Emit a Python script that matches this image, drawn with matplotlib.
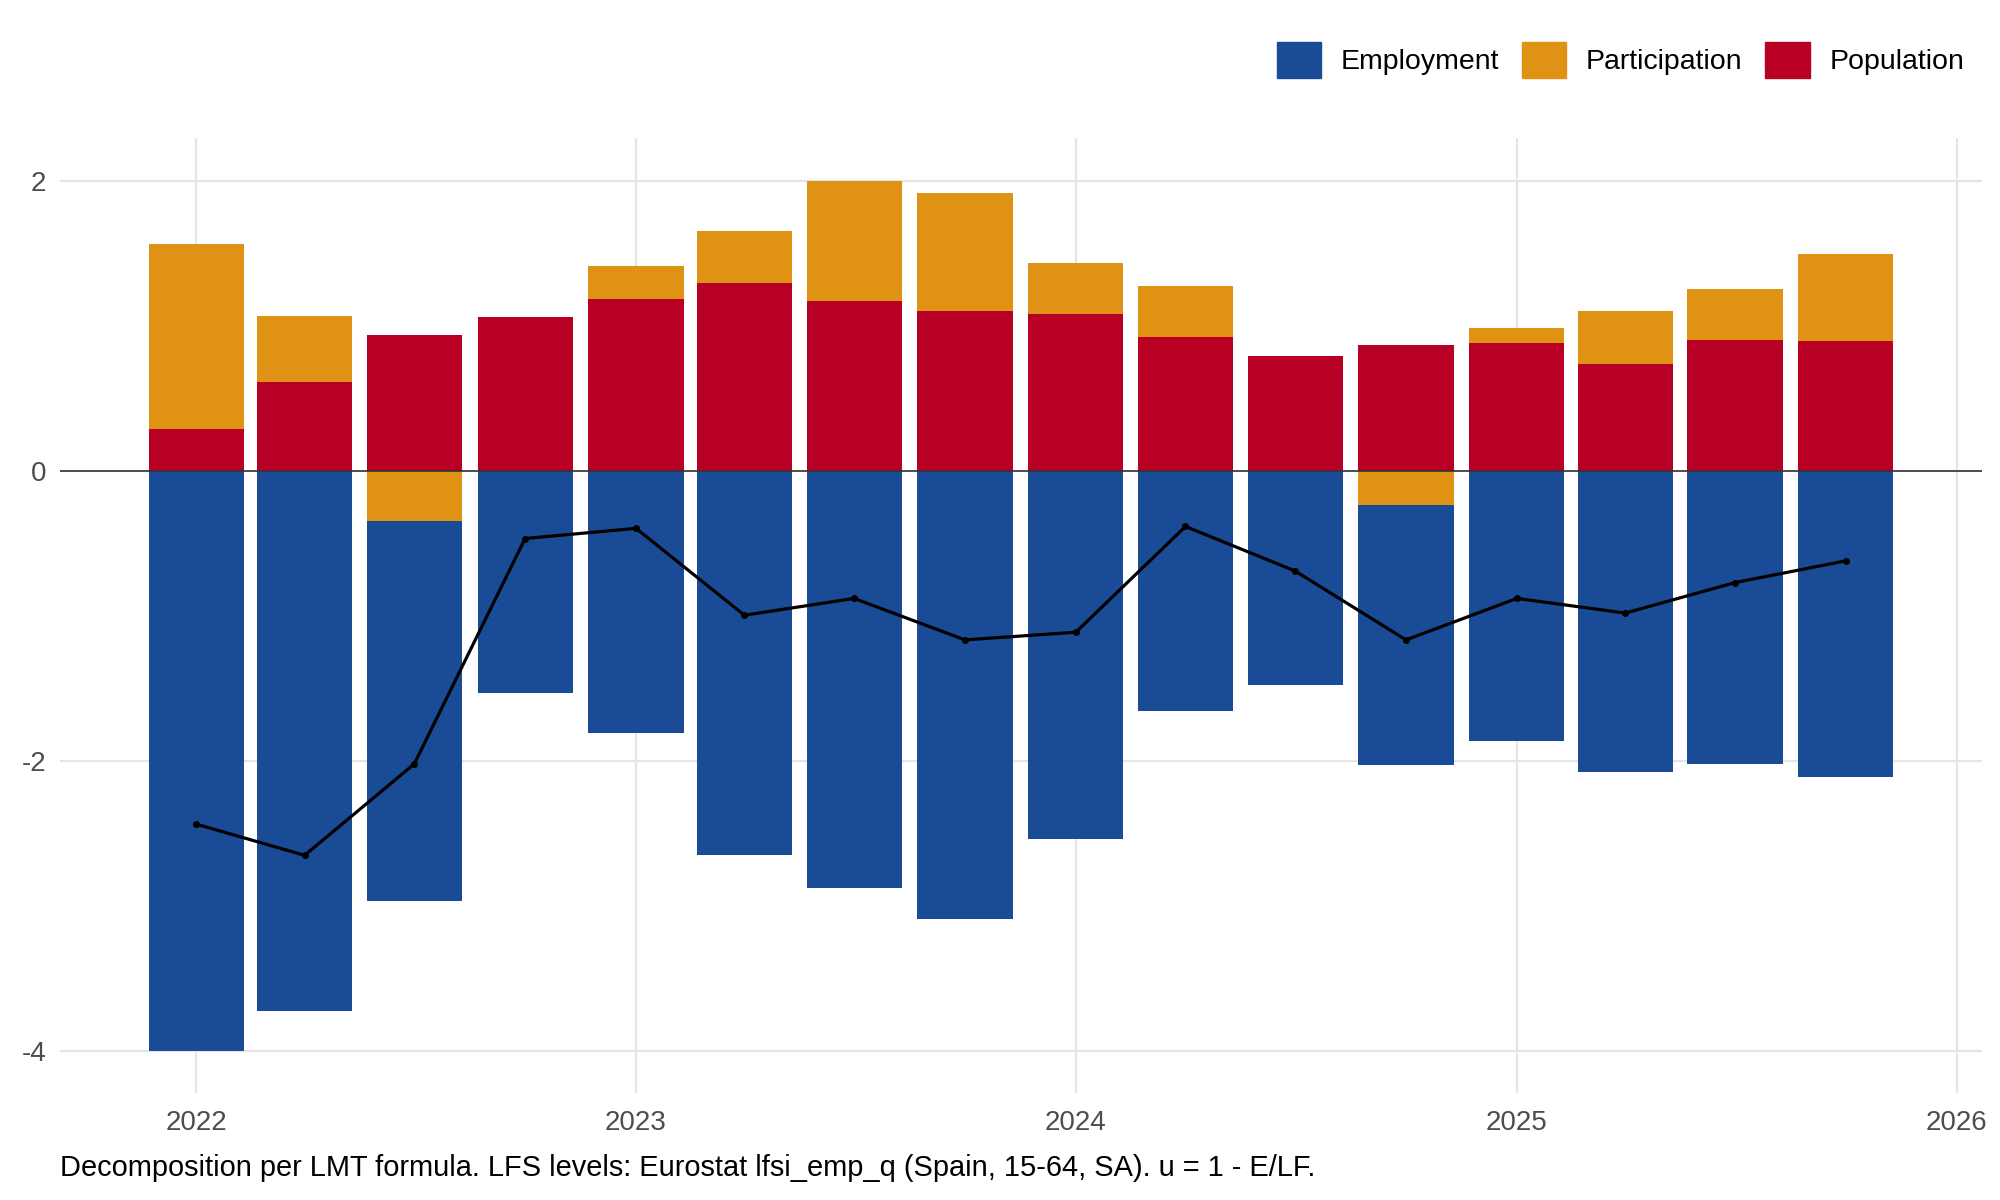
import numpy as np
import pandas as pd
import matplotlib
matplotlib.use("Agg")
import matplotlib.pyplot as plt
import matplotlib.dates as mdates
from matplotlib.patches import Patch

plt.rcParams['font.family'] = ['Liberation Sans', 'DejaVu Sans']

# quarterly contributions (pp), Spain 2022Q1-2025Q4
quarters = pd.date_range("2022-01-01", periods=16, freq="QS")
population = [0.29, 0.615, 0.94, 1.064, 1.187, 1.292, 1.169, 1.099,
              1.081, 0.923, 0.791, 0.87, 0.879, 0.738, 0.905, 0.897]
participation = [1.275, 0.455, -0.343, 0.0, 0.228, 0.36, 0.827, 0.817,
                 0.352, 0.352, 0.0, -0.237, 0.106, 0.361, 0.352, 0.597]
employment = [-4.0, -3.72, -2.62, -1.53, -1.81, -2.646, -2.875, -3.086,
              -2.54, -1.653, -1.477, -1.793, -1.864, -2.075, -2.022, -2.11]
total = [-2.435, -2.65, -2.02, -0.466, -0.396, -0.995, -0.879, -1.165,
         -1.112, -0.383, -0.69, -1.165, -0.879, -0.98, -0.77, -0.62]

col_emp = "#1A4B96"
col_part = "#E09215"
col_pop = "#B80024"

fig = plt.figure(figsize=(20, 12), dpi=100)
ax = fig.add_axes([0.03, 0.089, 0.961, 0.796])

width = 79  # days
pop = np.array(population)
part = np.array(participation)
emp = np.array(employment)

# positive stack: population at bottom, participation on top
ax.bar(quarters, pop, width=width, color=col_pop, zorder=2)
part_pos = np.where(part > 0, part, 0)
part_neg = np.where(part < 0, part, 0)
ax.bar(quarters, part_pos, bottom=pop, width=width, color=col_part, zorder=2)
# negative stack: participation next to zero, then employment
ax.bar(quarters, part_neg, width=width, color=col_part, zorder=2)
ax.bar(quarters, emp, bottom=part_neg, width=width, color=col_emp, zorder=2)

ax.axhline(0, color="#333333", linewidth=1.2, zorder=3)
ax.plot(quarters, total, color="black", linewidth=2.3, marker="o",
        markersize=4, zorder=4)

ax.set_ylim(-4.29, 2.295)
ax.set_xlim(pd.Timestamp("2021-09-10"), pd.Timestamp("2026-01-22"))
ax.set_yticks([-4, -2, 0, 2])
ax.set_yticklabels(["-4", "-2", "0", "2"])
ax.xaxis.set_major_locator(mdates.YearLocator())
ax.xaxis.set_major_formatter(mdates.DateFormatter("%Y"))

ax.grid(True, color="#E5E5E5", linewidth=1.6, zorder=0)
ax.set_axisbelow(True)
for s in ax.spines.values():
    s.set_visible(False)
ax.tick_params(length=0, labelsize=20, colors="#4D4D4D")
ax.tick_params(axis="x", pad=12)
ax.tick_params(axis="y", pad=10)

handles = [Patch(color=col_emp, label="Employment"),
           Patch(color=col_part, label="Participation"),
           Patch(color=col_pop, label="Population")]
fig.legend(handles=handles, loc="center right", bbox_to_anchor=(0.995, 0.95),
           ncol=3, frameon=False, fontsize=20.5, handlelength=1.55,
           handleheight=1.55, handletextpad=0.7, columnspacing=0.8)

fig.text(0.03, 0.027, "Decomposition per LMT formula. LFS levels: Eurostat lfsi_emp_q "
         "(Spain, 15-64, SA). u = 1 - E/LF.", fontsize=20.9, ha="left", va="center")

fig.savefig("out.png", dpi=100)
